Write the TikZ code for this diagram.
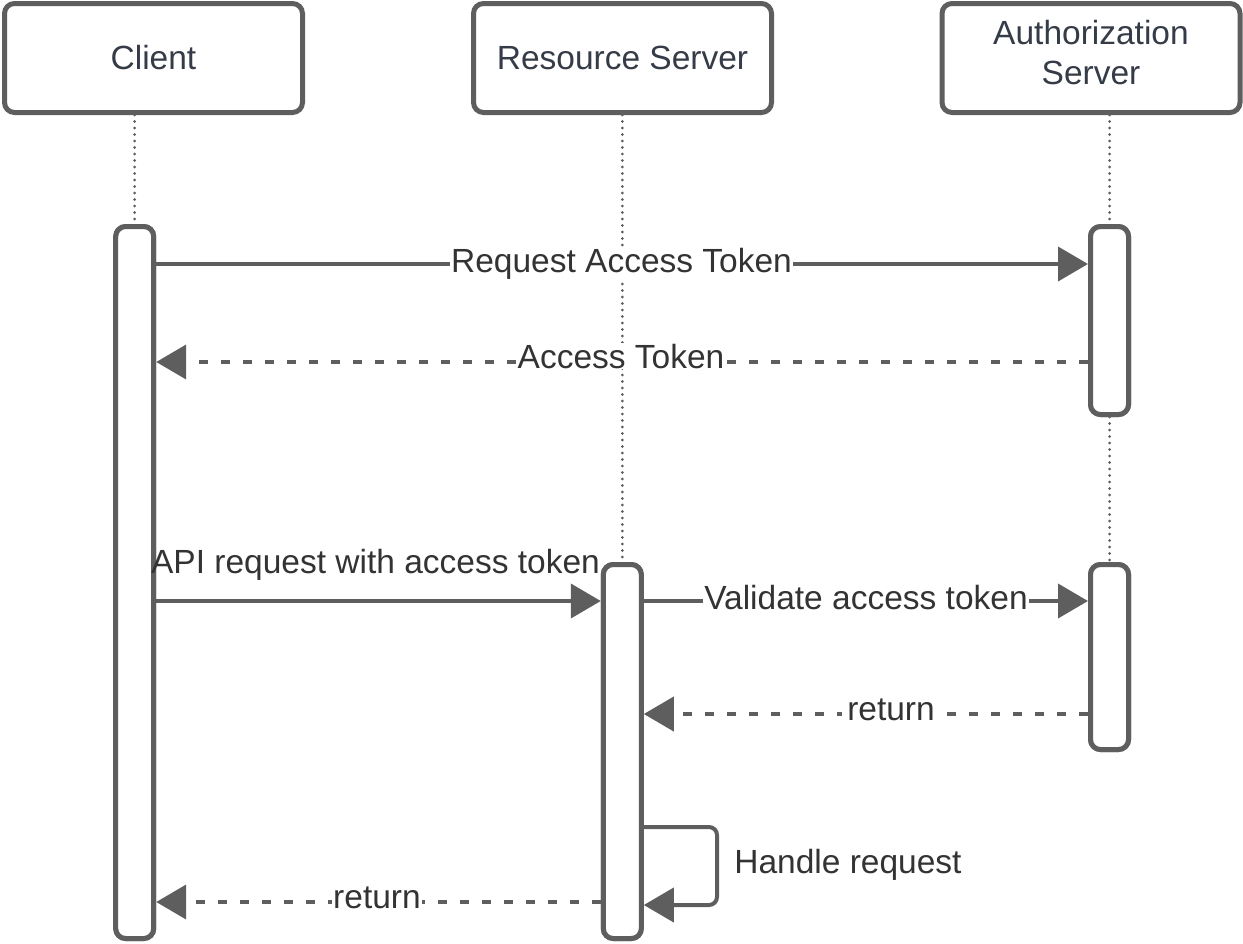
\documentclass[tikz,border=0pt]{standalone}
\usepackage{fontspec}
\setmainfont{Liberation Sans}
\usetikzlibrary{arrows.meta}
\definecolor{ln}{HTML}{5E5E5E}
\definecolor{hd}{HTML}{353C47}
\definecolor{tx}{HTML}{333333}
\begin{document}
\begin{tikzpicture}[x=1pt,y=-1pt,
  font=\fontsize{33.5}{40}\selectfont,
  head/.style={draw=ln, line width=5pt, rounded corners=10pt, fill=white,
    minimum width=298pt, minimum height=109pt, text=hd, align=center, inner sep=0pt},
  actbar/.style={draw=ln, line width=5pt, rounded corners=10pt, fill=white,
    minimum width=38pt, inner sep=0pt},
  life/.style={draw=ln, line width=3pt, line cap=round, dash pattern=on 0pt off 6.5pt},
  msg/.style={draw=ln, line width=4pt, -{Triangle[length=30pt,width=34pt]}},
  ret/.style={msg, dash pattern=on 9pt off 13pt},
  lab/.style={text=tx, fill=white, inner sep=1pt, anchor=base}]

\useasboundingbox (0,0) rectangle (1243,943);

% headers
\node[head] (client) at (153.5,58) {Client};
\node[head] (rs) at (622.5,58) {Resource Server};
\node[head] (as) at (1091,58) {};
\node[text=hd, align=center, inner sep=0pt] (astext) at (1091,53) {Authorization\\Server};

% activation bars
\node[actbar, minimum height=712pt] (cbar) at (134.7,582.5) {};
\node[actbar, minimum height=188pt] (abar1) at (1109.5,320.5) {};
\node[actbar, minimum height=185pt] (abar2) at (1109.5,657) {};
\node[actbar, minimum height=374pt] (rbar) at (622.3,751.5) {};

% lifelines
\draw[life] (cbar.north |- client.south) -- (cbar.north);
\draw[life] (rbar.north |- rs.south) -- (rbar.north);
\draw[life] (abar1.north |- as.south) -- (abar1.north);
\draw[life] (abar1.south) -- (abar2.north);

% redraw bars on top of lifelines
\node[actbar, minimum height=712pt] at (cbar) {};
\node[actbar, minimum height=188pt] at (abar1) {};
\node[actbar, minimum height=185pt] at (abar2) {};
\node[actbar, minimum height=374pt] at (rbar) {};

% message rows
\coordinate (m1) at (0,264);
\coordinate (m2) at (0,362);
\coordinate (m3) at (0,601);
\coordinate (m5) at (0,714);
\coordinate (l1) at (717,827);
\coordinate (l2) at (717,905);
\coordinate (m7) at (0,902);

\draw[msg] (cbar.east |- m1) -- (abar1.west |- m1);
\node[lab] (t1) at (621.5,272) {Request Access Token};

\draw[ret] (abar1.west |- m2) -- (cbar.east |- m2);
\node[lab] (t2) at (621,368) {Access Token};

\draw[msg] (cbar.east |- m3) -- (rbar.west |- m3);
\node[text=tx, inner sep=0pt, anchor=base] (t3) at (375.5,573) {API request with access token};

\draw[msg] (rbar.east |- m3) -- (abar2.west |- m3);
\node[lab] (t4) at (866,609) {Validate access token};

\draw[ret] (abar2.west |- m5) -- (rbar.east |- m5);
\node[lab, inner sep=5pt] (t5) at (891,720) {return};

\draw[msg, rounded corners=8pt] (rbar.east |- l1) -- (l1) -- (l2) -- (rbar.east |- l2);
\node[text=tx, inner sep=0pt, anchor=base] (t6) at (848,873) {Handle request};

\draw[ret] (rbar.west |- m7) -- (cbar.east |- m7);
\node[lab] (t7) at (377,908) {return};

\end{tikzpicture}
\end{document}
